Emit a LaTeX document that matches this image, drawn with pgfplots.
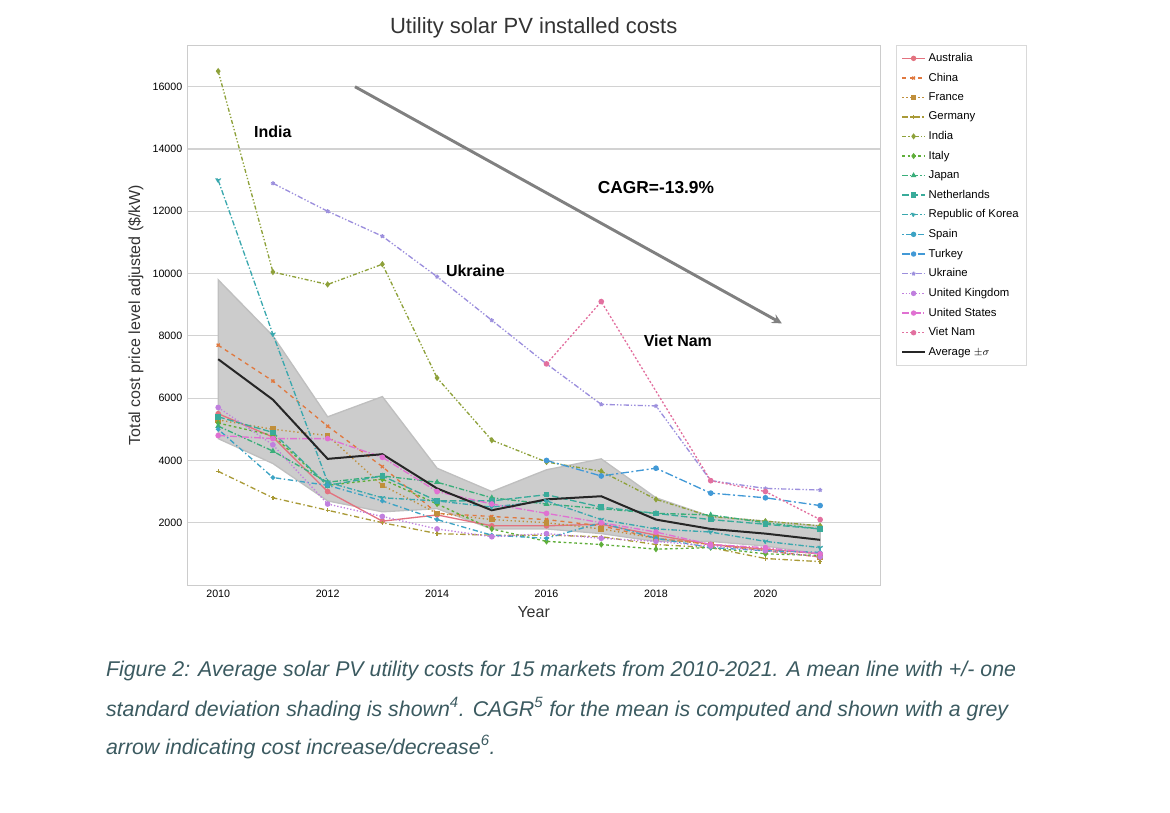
\documentclass[border=0pt]{standalone}
\usepackage{pgfplots}
\pgfplotsset{compat=1.18}
\usepackage{fontspec}
\setmainfont{Liberation Sans}
\definecolor{cAU}{HTML}{E3727F}
\definecolor{cCN}{HTML}{E0793F}
\definecolor{cFR}{HTML}{C08F3B}
\definecolor{cDE}{HTML}{A99A37}
\definecolor{cIN}{HTML}{8EA13A}
\definecolor{cIT}{HTML}{5FAE3A}
\definecolor{cJP}{HTML}{3AAE7A}
\definecolor{cNL}{HTML}{39AB9A}
\definecolor{cKR}{HTML}{3AA8AE}
\definecolor{cES}{HTML}{3CA3C4}
\definecolor{cTR}{HTML}{4299D6}
\definecolor{cUA}{HTML}{9C8FDD}
\definecolor{cUK}{HTML}{C07FDE}
\definecolor{cUS}{HTML}{E071D2}
\definecolor{cVN}{HTML}{E2709F}
\definecolor{capc}{HTML}{3B5A60}
\begin{document}
\begin{tikzpicture}[x=1pt,y=1pt]
\path (0,0) rectangle (877.5,609.75);
\begin{axis}[at={(140.25pt,171pt)}, anchor=south west, scale only axis,
 width=520pt, height=405pt,
 xmin=2009.43, xmax=2022.1, ymin=0, ymax=17340,
 xtick={2010,2012,...,2020}, ytick={2000,4000,...,16000},
 scaled ticks=false,
 xticklabel style={/pgf/number format/1000 sep=},
 yticklabel style={/pgf/number format/1000 sep=, /pgf/number format/fixed},
 /pgf/number format/assume math mode=true,
 tick label style={font=\fontsize{8}{9}\selectfont},
 tick style={draw=none},
 ymajorgrids, grid style={gray!35, line width=0.8pt},
 axis line style={gray!40},
 xlabel={Year}, ylabel={Total cost price level adjusted (\$/kW)},
 label style={font=\fontsize{12}{14}\selectfont, text=black!80},
 title={Utility solar PV installed costs},
 title style={font=\fontsize{16.5}{18}\selectfont, text=black!80, yshift=-4pt},
 legend style={at={(1.022,1)}, anchor=north west, font=\fontsize{8.5}{10}\selectfont, draw=gray!30, row sep=3.1pt, inner sep=4pt},
 legend image post style={mark size=1.5pt},
 legend cell align=left,
 every axis plot/.append style={line width=1pt, mark size=1.6pt, mark options={solid}},
]
\addplot[forget plot, fill=black!20, draw=black!25] coordinates {
(2010,9800)(2011,8000)(2012,5400)(2013,6050)(2014,3750)(2015,3000)(2016,3700)(2017,4050)(2018,2800)(2019,2200)(2020,2050)(2021,1900)
(2021,1000)(2020,1250)(2019,1400)(2018,1400)(2017,1650)(2016,1800)(2015,1800)(2014,2450)(2013,2350)(2012,2700)(2011,3900)(2010,4700)} --cycle;
\addplot[cAU, mark=*] coordinates {(2010,5500)(2011,4750)(2012,3000)(2013,2050)(2014,2250)(2015,1900)(2016,1900)(2017,1950)(2018,1600)(2019,1300)(2020,1150)(2021,1000)};
\addlegendentry{Australia}
\addplot[cCN, dashed, mark=x] coordinates {(2010,7700)(2011,6550)(2012,5100)(2013,3800)(2014,2300)(2015,2200)(2016,2100)(2017,1900)(2018,1500)(2019,1300)(2020,1100)(2021,900)};
\addlegendentry{China}
\addplot[cFR, dotted, mark=square*] coordinates {(2010,5300)(2011,5000)(2012,4800)(2013,3200)(2014,2300)(2015,2100)(2016,2000)(2017,1800)(2018,1500)(2019,1300)(2020,1100)(2021,900)};
\addlegendentry{France}
\addplot[cDE, dash pattern=on 4pt off 2pt on 1pt off 2pt, mark=+] coordinates {(2010,3650)(2011,2800)(2012,2400)(2013,2000)(2014,1650)(2015,1600)(2016,1600)(2017,1550)(2018,1300)(2019,1200)(2020,850)(2021,750)};
\addlegendentry{Germany}
\addplot[cIN, dash pattern=on 3pt off 1.5pt on 1pt off 1.5pt on 1pt off 1.5pt, mark=diamond*] coordinates {(2010,16500)(2011,10050)(2012,9650)(2013,10300)(2014,6650)(2015,4650)(2016,3950)(2017,3650)(2018,2750)(2019,2200)(2020,2050)(2021,1900)};
\addlegendentry{India}
\addplot[cIT, dash pattern=on 2pt off 2pt, mark=diamond*] coordinates {(2010,5200)(2011,4800)(2012,3200)(2013,3400)(2014,2600)(2015,1800)(2016,1400)(2017,1300)(2018,1150)(2019,1200)(2020,1000)(2021,950)};
\addlegendentry{Italy}
\addplot[cJP, dash pattern=on 4pt off 1.5pt on 1pt off 1.5pt, mark=triangle*] coordinates {(2010,5100)(2011,4300)(2012,3300)(2013,3500)(2014,3300)(2015,2800)(2016,2600)(2017,2450)(2018,2300)(2019,2250)(2020,2000)(2021,1800)};
\addlegendentry{Japan}
\addplot[cNL, dash pattern=on 5pt off 2pt, mark=square*] coordinates {(2010,5400)(2011,4900)(2012,3200)(2013,3500)(2014,2700)(2015,2700)(2016,2900)(2017,2500)(2018,2300)(2019,2100)(2020,1950)(2021,1800)};
\addlegendentry{Netherlands}
\addplot[cKR, dash pattern=on 4pt off 1.5pt on 1pt off 1.5pt, mark=triangle*, mark options={rotate=180}] coordinates {(2010,13000)(2011,8050)(2012,3300)(2013,2800)(2014,2700)(2015,2500)(2016,2700)(2017,2100)(2018,1800)(2019,1700)(2020,1400)(2021,1200)};
\addlegendentry{Republic of Korea}
\addplot[cES, dash pattern=on 1pt off 2pt on 4pt off 2pt, mark=*, mark size=1.2pt] coordinates {(2010,5000)(2011,3450)(2012,3200)(2013,2700)(2014,2100)(2015,1600)(2016,1500)(2017,2000)(2018,1500)(2019,1200)(2020,1100)(2021,1050)};
\addlegendentry{Spain}
\addplot[cTR, dash pattern=on 6pt off 2pt on 1.5pt off 2pt, mark=*] coordinates {(2016,4000)(2017,3500)(2018,3750)(2019,2950)(2020,2800)(2021,2550)};
\addlegendentry{Turkey}
\addplot[cUA, dash pattern=on 4pt off 1.5pt on 1pt off 1.5pt on 1pt off 1.5pt, mark=star] coordinates {(2011,12900)(2012,12000)(2013,11200)(2014,9900)(2015,8500)(2016,7100)(2017,5800)(2018,5750)(2019,3350)(2020,3100)(2021,3050)};
\addlegendentry{Ukraine}
\addplot[cUK, dash pattern=on 1pt off 1.5pt, mark=*] coordinates {(2010,5700)(2011,4500)(2012,2600)(2013,2200)(2014,1800)(2015,1550)(2016,1650)(2017,1500)(2018,1400)(2019,1250)(2020,1100)(2021,900)};
\addlegendentry{United Kingdom}
\addplot[cUS, dash pattern=on 5pt off 1.5pt on 1pt off 1.5pt, mark=*] coordinates {(2010,4800)(2011,4700)(2012,4700)(2013,4100)(2014,3000)(2015,2600)(2016,2300)(2017,2000)(2018,1700)(2019,1300)(2020,1200)(2021,1000)};
\addlegendentry{United States}
\addplot[cVN, dash pattern=on 1.5pt off 1.5pt, mark=*] coordinates {(2016,7100)(2017,9100)(2019,3350)(2020,3000)(2021,2100)};
\addlegendentry{Viet Nam}
\addplot[black!85, line width=1.5pt, mark=none] coordinates {(2010,7250)(2011,5950)(2012,4050)(2013,4200)(2014,3100)(2015,2400)(2016,2750)(2017,2850)(2018,2100)(2019,1800)(2020,1650)(2021,1450)};
\addlegendentry{Average $\pm\sigma$}
\draw[-stealth, gray, line width=2.2pt] (axis cs:2012.5,16000) -- (axis cs:2020.3,8400);
\node[font=\bfseries\fontsize{12}{14}\selectfont] at (axis cs:2011.0,14550) {India};
\node[font=\bfseries\fontsize{12}{14}\selectfont] at (axis cs:2014.7,10100) {Ukraine};
\node[font=\bfseries\fontsize{12}{14}\selectfont] at (axis cs:2018.4,7850) {Viet Nam};
\node[font=\bfseries\fontsize{13}{15}\selectfont] at (axis cs:2018.0,12750) {CAGR=-13.9\%};
\end{axis}
\begin{scope}[every node/.style={anchor=west, text=capc, font=\itshape\fontsize{16}{18}\selectfont}]
\node at (76,106.5) {Figure 2: Average solar PV utility costs for 15 markets from 2010-2021. A mean line with +/- one};
\node at (76,78) {standard deviation shading is shown\textsuperscript{4}. CAGR\textsuperscript{5} for the mean is computed and shown with a grey};
\node at (76,49.5) {arrow indicating cost increase/decrease\textsuperscript{6}.};
\end{scope}
\end{tikzpicture}
\end{document}
